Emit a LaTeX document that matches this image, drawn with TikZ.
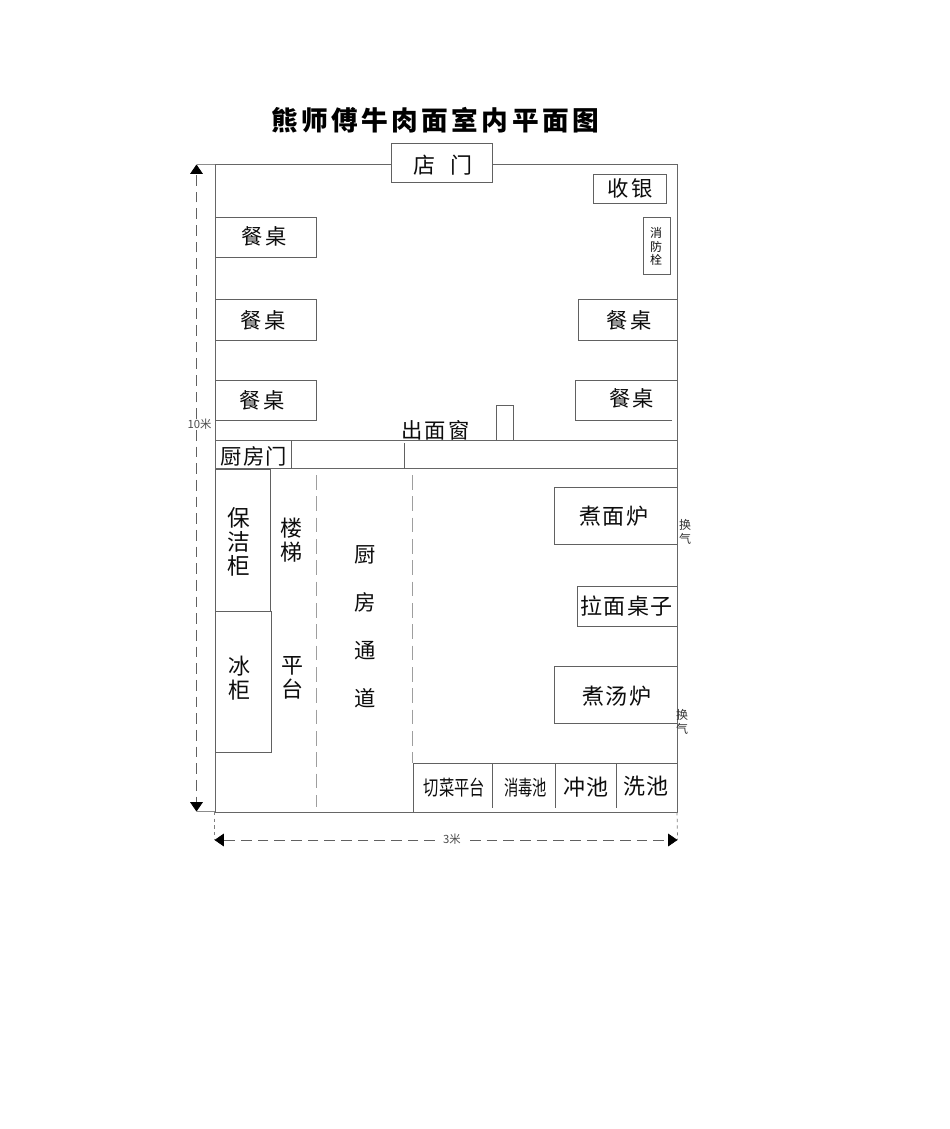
\documentclass[tikz,border=0pt]{standalone}
\usepackage{fontspec}
\setmainfont{Noto Sans CJK SC}
\usetikzlibrary{arrows.meta}
\tikzset{
  wall/.style={draw=black!60,line width=.7pt},
  item/.style={draw=black!62,line width=.6pt},
  guide/.style={draw=black!38,line width=.6pt,dash pattern=on 11pt off 5pt},
  dimline/.style={draw=black!62,line width=.55pt,dash pattern=on 8pt off 4.5pt},
  dimtip/.style={-{Triangle[length=7pt,width=9.5pt,black]}},
  txt/.style={inner sep=0pt,align=center,text=black!95},
  lab/.style={txt,font=\fontsize{16}{18}\selectfont\addfontfeature{LetterSpace=10}},
  wide/.style={txt,font=\fontsize{16.5}{18}\selectfont\addfontfeature{LetterSpace=7}},
  tiny/.style={txt,font=\fontsize{9}{10}\selectfont},
}
\begin{document}
\begin{tikzpicture}[x=.75pt,y=-.75pt]
\useasboundingbox (0,0) rectangle (950,1129);
\fill[white] (0,0) rectangle (950,1129);
% title
\node[txt,text=black,font=\fontsize{20}{24}\selectfont\bfseries\addfontfeature{LetterSpace=13}] (title) at (435,120) {熊师傅牛肉面室内平面图};
% outer walls
\draw[wall] (391,164) -- (215,164) -- (215,812) -- (677,812) -- (677,164) -- (492,164);
\draw[wall] (215,440) -- (677,440);
\draw[wall] (215,468.5) -- (677,468.5);
\draw[item] (291,440) -- (291,468.5);
\draw[item] (404,443) -- (404,468.5);
% door and front of house
\draw[item,fill=white] (391,143) rectangle (492,182);
\node[txt,font=\fontsize{16.5}{18}\selectfont] (door) at (443,165) {店\hspace{11pt}门};
\draw[item] (593,174) rectangle (666,203);
\node[lab] (cash) at (630,188) {收银};
\draw[item] (643,217) rectangle (670,274);
\node[tiny] (hydrant) at (656,246.5) {消\\防\\栓};
\draw[item] (215,217) rectangle (316,257.5);
\draw[item] (215,299) rectangle (316,340);
\draw[item] (215,380) rectangle (316,420.5);
\node[lab] (t1) at (264,236) {餐桌};
\node[lab] (t2) at (263,320) {餐桌};
\node[lab] (t3) at (262,400.5) {餐桌};
\draw[item] (677,299) -- (578,299) -- (578,340) -- (677,340);
\node[lab] (t4) at (629,320) {餐桌};
\draw[item] (672,420.5) -- (575.5,420.5) -- (575.5,380) -- (677,380);
\node[lab] (t5) at (631.5,398) {餐桌};
\draw[item] (496,440) -- (496,405.5) -- (513,405.5) -- (513,440);
\node[lab] (window) at (435.5,430) {出面窗};
\node[txt,font=\fontsize{16}{18}\selectfont\addfontfeature{LetterSpace=6}] (kdoor) at (254,456) {厨房门};
% kitchen, left
\draw[item] (215,469) rectangle (270,611);
\draw[item] (215,611) rectangle (271,752);
\node[txt,font=\fontsize{17}{18}\selectfont] (cab) at (239,542) {保\\洁\\柜};
\node[txt,font=\fontsize{16.5}{18}\selectfont] (fridge) at (239.5,678) {冰\\柜};
\node[txt,font=\fontsize{16.5}{18}\selectfont] (stairs) at (291.5,540) {楼\\梯};
\node[txt,font=\fontsize{16.5}{18}\selectfont] (plat) at (292.5,678) {平\\台};
\draw[guide] (316.5,475) -- (316.5,807);
\draw[guide] (412.5,475) -- (412.5,763);
\node[txt,font=\fontsize{16}{36}\selectfont] (aisle) at (365,626.5) {厨\\房\\通\\道};
% kitchen, right
\draw[item] (677,487.5) -- (554,487.5) -- (554,544) -- (677,544);
\node[wide] (noodle) at (614,516) {煮面炉};
\draw[item] (677,586) -- (577.5,586) -- (577.5,626) -- (677,626);
\node[wide] (pull) at (626.5,606) {拉面桌子};
\draw[item] (677,666.5) -- (554,666.5) -- (554,723) -- (677,723);
\node[wide] (soup) at (617,696) {煮汤炉};
\node[tiny,text=black!80] (vent1) at (685,532) {换\\气};
\node[tiny,text=black!80] (vent2) at (682,722) {换\\气};
% sinks
\draw[item] (677,763) -- (413,763) -- (413,812);
\draw[item] (492.5,763) -- (492.5,808);
\draw[item] (555,763) -- (555,808);
\draw[item] (616,763) -- (616,808);
\node[txt,font=\fontsize{15.5}{18}\selectfont] (cut) at (454.5,788) {\scalebox{.74}[1]{切菜平台}};
\node[txt,font=\fontsize{15.5}{18}\selectfont] (dis) at (525.5,788) {\scalebox{.69}[1]{消毒池}};
\node[wide] (rinse) at (586,787) {冲池};
\node[wide] (wash) at (646,786) {洗池};
% dimensions
\coordinate (vtop) at (196.5,164.5);
\coordinate (vbot) at (196.5,811.5);
\coordinate (htl) at (214.5,840);
\coordinate (htr) at (677.5,840);
\node[txt,font=\fontsize{8.5}{9}\selectfont,text=black!70] (ten) at (199.5,424.5) {10米};
\node[txt,font=\fontsize{8.5}{9}\selectfont,text=black!70] (three) at (452,839) {3米};
\draw[dimline,dimtip] (ten.north -| vtop) -- (vtop);
\draw[dimline,dimtip] (ten.south -| vbot) -- (vbot);
\draw[dimline,dimtip] (three.west) ++(-8,1) -- (htl);
\draw[dimline,dimtip] (three.east) ++(9,1) -- (htr);
\draw[draw=black!45,line width=.6pt] (vtop) -- (215,164.5);
\draw[draw=black!45,line width=.6pt] (vbot) -- (215,811.5);
\draw[draw=black!50,line width=.55pt,dash pattern=on 2.5pt off 2.5pt] (214.5,812) -- (htl);
\draw[draw=black!50,line width=.55pt,dash pattern=on 2.5pt off 2.5pt] (677,812) -- (htr);
\end{tikzpicture}
\end{document}
